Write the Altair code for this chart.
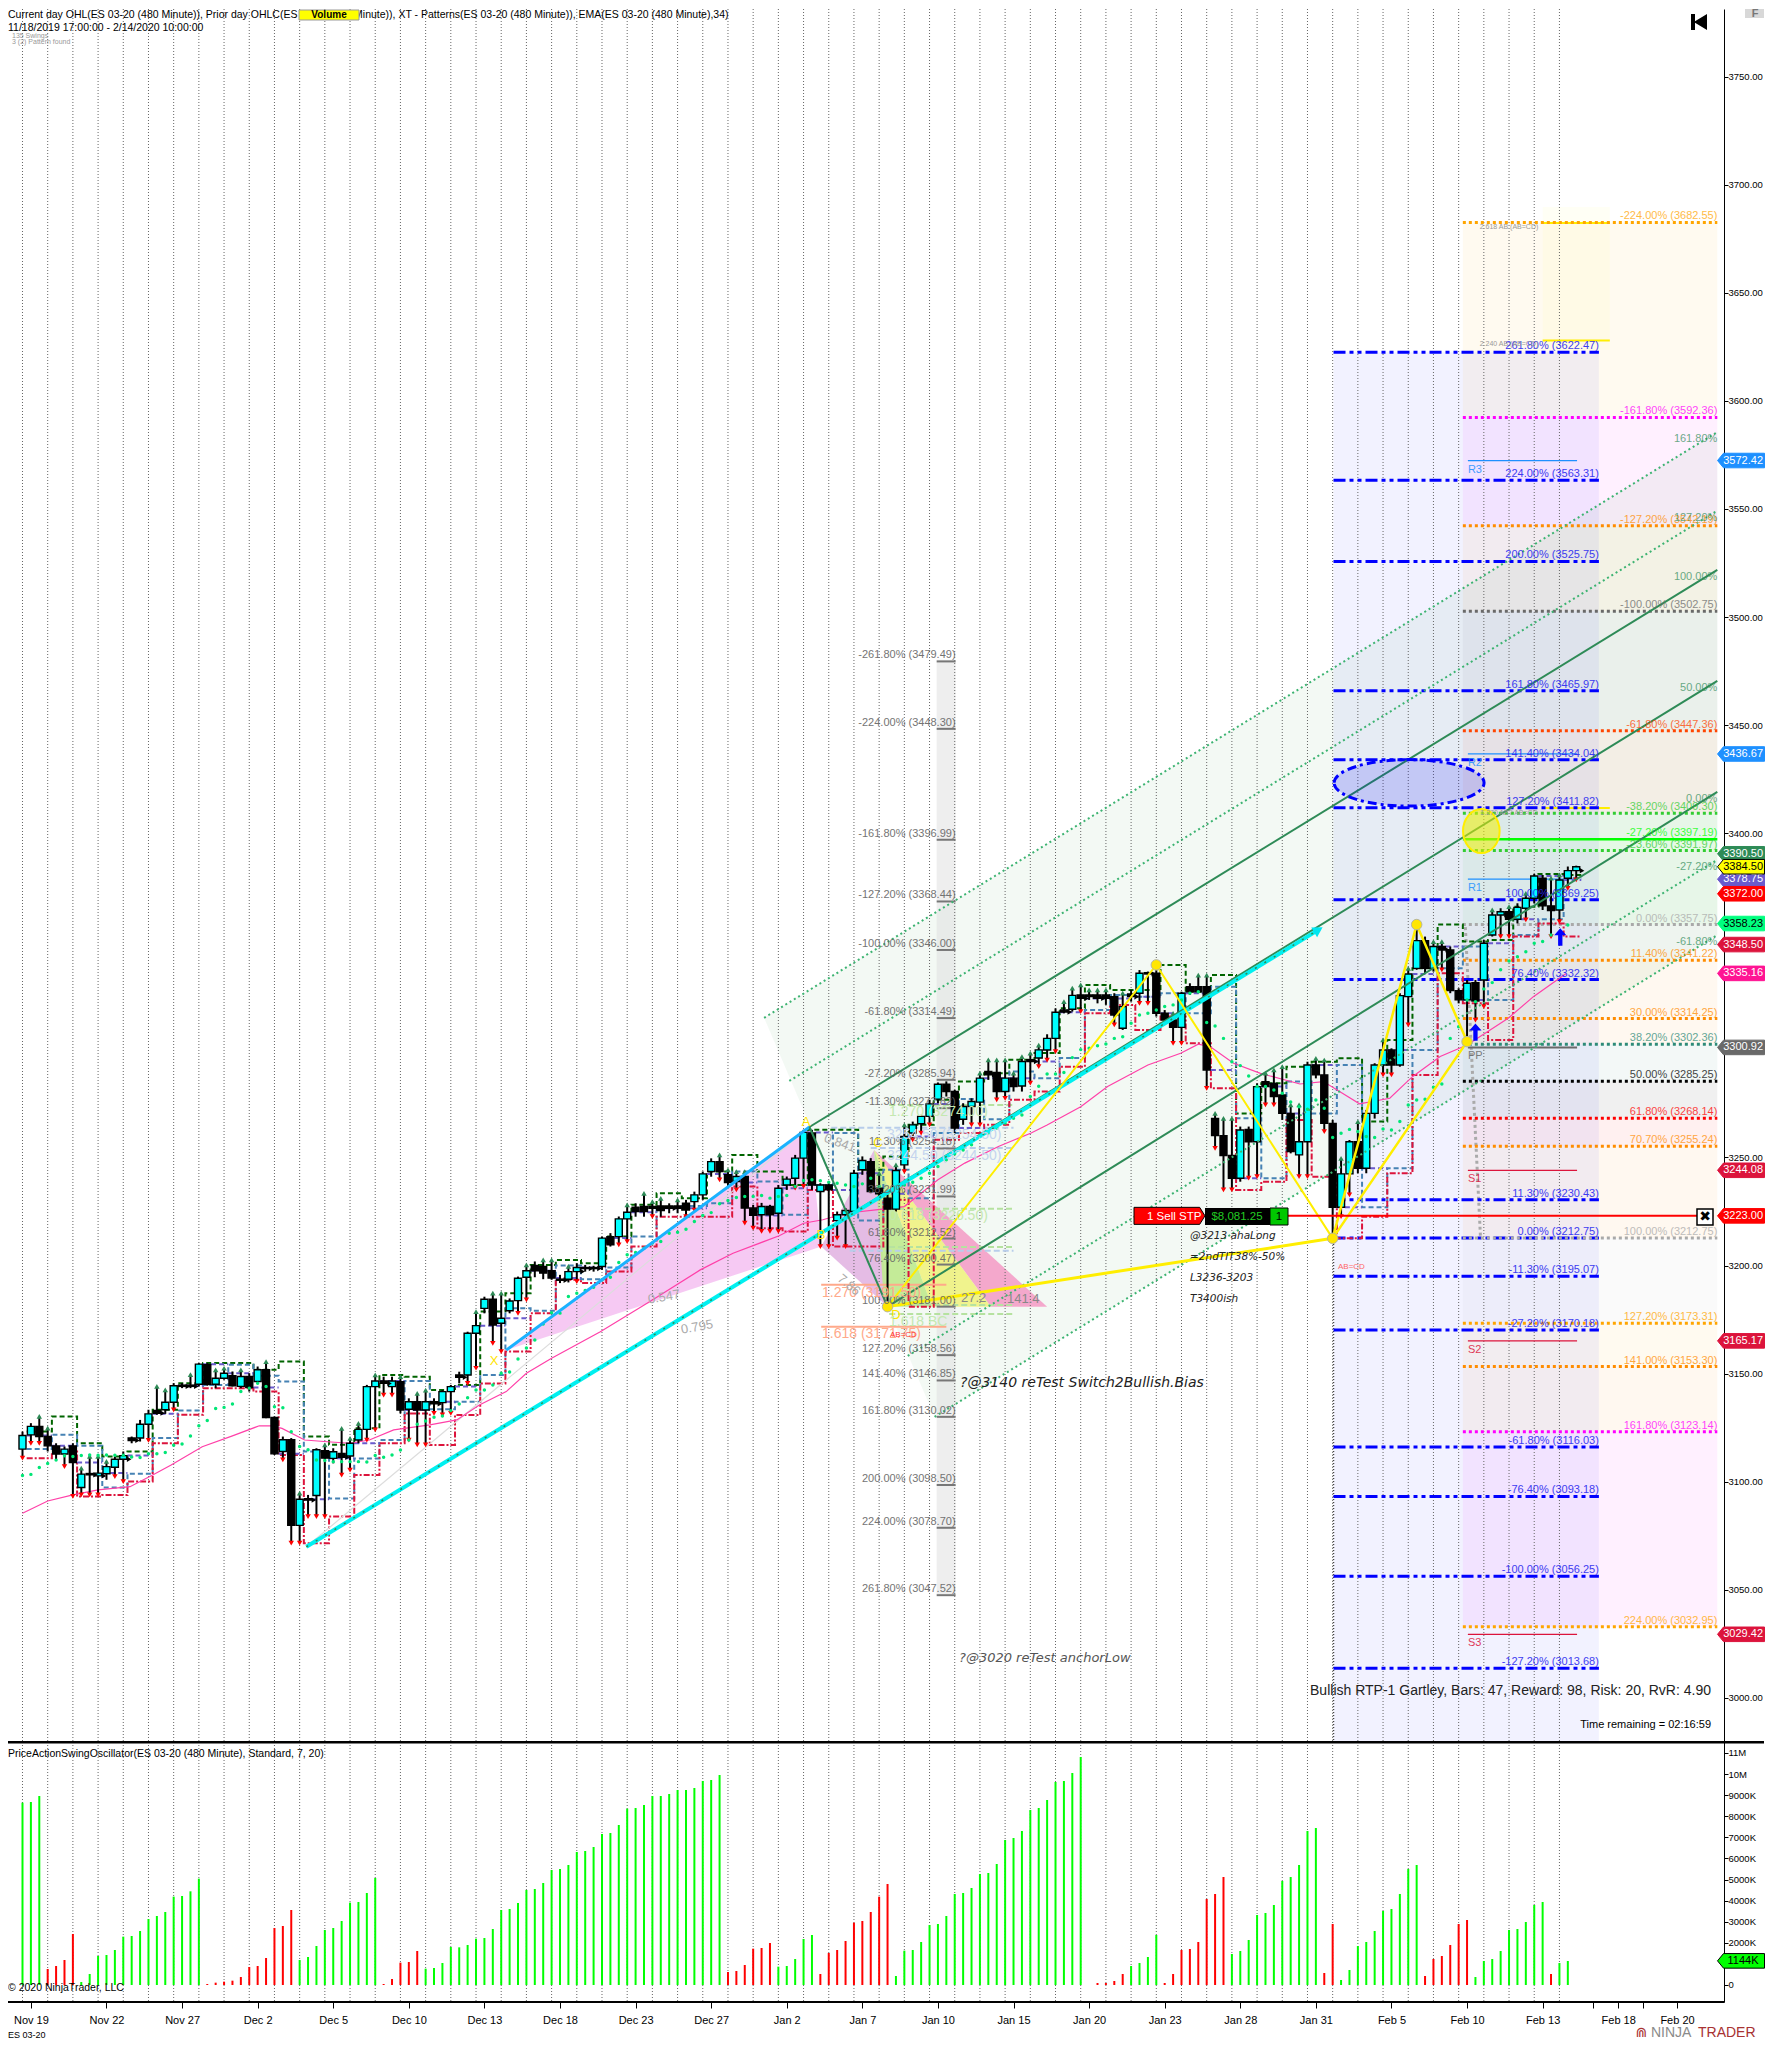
import json
import altair as alt
import pandas as pd

FONT = "Liberation Sans"

# ---------- price bars ----------
opens = [3115.1,3121.7,3125.6,3120.9,3116.6,3112.8,3116.6,3097.3,3103.8,3102.7,3103.7,3106.7,3110.4,3120.2,3120.2,3126.6,3133.0,3133.3,3136.8,3144.7,
3144.7,3145.1,3154.1,3145.1,3147.9,3149.0,3144.1,3148.7,3146.4,3151.8,3129.7,3114.0,3119.4,3079.8,3092.2,3093.6,3114.4,3110.8,3113.1,3111.9,
3119.3,3124.2,3144.0,3146.6,3144.0,3146.3,3133.5,3137.0,3133.2,3137.0,3136.6,3141.7,3149.4,3149.4,3168.7,3180.2,3184.4,3173.3,3179.1,3183.8,
3194.6,3200.0,3199.6,3197.6,3193.7,3193.7,3197.2,3199.1,3199.1,3199.6,3213.4,3213.4,3221.6,3227.0,3227.3,3227.3,3227.6,3227.6,3227.6,3228.8,
3229.6,3232.7,3243.5,3248.1,3242.0,3238.9,3241.2,3226.6,3223.5,3227.3,3224.2,3237.3,3240.4,3249.7,3261.3,3234.3,3237.3,3220.8,3223.5,3225.0,
3244.3,3248.1,3235.8,3231.2,3226.1,3246.6,3261.3,3265.6,3269.0,3277.0,3283.9,3280.5,3267.7,3273.6,3275.6,3289.8,3289.3,3280.5,3286.7,3283.1,
3295.2,3296.0,3299.7,3305.1,3318.2,3318.6,3325.2,3325.2,3325.2,3325.2,3324.4,3309.8,3325.6,3326.0,3335.5,3335.2,3316.7,3313.6,3310.2,3329.0,
3329.0,3329.0,3268.1,3260.1,3250.9,3240.4,3263.0,3257.3,3285.1,3284.3,3278.9,3270.4,3251.2,3257.3,3292.8,3288.2,3265.8,3227.0,3242.4,3257.3,
3245.0,3270.4,3292.8,3299.7,3292.8,3324.4,3337.5,3350.3,3337.5,3347.6,3346.0,3327.2,3322.9,3330.9,3332.1,3352.9,3362.2,3363.7,3360.2,3365.3,
3369.9,3379.2,3366.4,3364.5,3379.2,3382.7]
highs = [3123.2,3127.1,3130.2,3124.8,3117.8,3116.3,3117.8,3106.3,3111.7,3111.7,3109.4,3111.7,3114.0,3120.9,3128.6,3133.3,3144.1,3142.5,3145.6,3145.6,
3149.5,3154.9,3154.9,3151.8,3152.5,3151.0,3151.8,3150.2,3153.3,3155.6,3130.2,3120.9,3120.2,3094.7,3093.9,3115.5,3117.1,3115.5,3124.7,3120.1,
3127.0,3144.8,3149.4,3148.6,3148.6,3148.6,3138.6,3140.9,3142.4,3138.6,3142.4,3144.8,3150.9,3169.4,3178.7,3185.6,3187.2,3187.2,3184.8,3194.9,
3200.3,3201.9,3202.6,3202.6,3195.7,3199.6,3201.1,3200.3,3199.9,3213.4,3215.0,3222.7,3228.1,3228.8,3233.4,3229.6,3231.1,3228.8,3230.4,3230.4,
3234.2,3243.5,3249.6,3251.2,3244.3,3243.5,3243.5,3228.1,3229.0,3228.1,3237.3,3241.2,3251.2,3262.8,3262.8,3238.1,3238.1,3225.0,3226.6,3244.3,
3250.5,3249.7,3242.7,3232.7,3246.6,3265.1,3266.6,3269.7,3276.7,3284.7,3285.2,3281.3,3275.1,3277.4,3289.0,3295.2,3295.2,3295.2,3289.0,3296.7,
3298.3,3302.0,3307.0,3319.0,3322.1,3328.3,3329.8,3327.5,3327.5,3327.5,3326.0,3326.0,3327.5,3336.7,3336.0,3339.1,3318.2,3316.7,3326.7,3330.6,
3334.4,3334.4,3270.4,3268.1,3268.1,3264.3,3264.3,3284.3,3289.0,3290.5,3292.0,3274.3,3274.3,3294.3,3295.9,3295.1,3267.4,3249.6,3258.1,3266.6,
3272.0,3293.6,3304.4,3300.5,3326.0,3337.5,3357.75,3352.2,3349.9,3349.9,3347.6,3328.3,3332.1,3332.1,3350.6,3364.5,3365.3,3366.0,3367.6,3372.2,
3381.2,3380.7,3379.2,3380.7,3384.6,3385.0]
lows = [3110.9,3117.8,3117.8,3114.0,3110.1,3107.0,3093.2,3093.9,3093.9,3093.9,3100.9,3102.4,3100.1,3117.8,3118.6,3119.1,3131.0,3131.4,3133.3,3143.3,
3143.3,3144.1,3144.4,3143.3,3147.2,3144.1,3143.3,3141.7,3145.6,3129.4,3112.4,3110.1,3071.6,3071.6,3083.9,3083.9,3083.9,3108.5,3103.1,3105.4,
3117.8,3119.3,3124.0,3140.1,3140.1,3131.6,3119.3,3117.0,3117.0,3131.6,3130.9,3131.6,3145.5,3145.5,3152.5,3177.9,3164.0,3160.2,3177.9,3177.9,
3184.1,3194.6,3193.7,3193.4,3191.9,3192.2,3192.6,3197.2,3197.2,3198.0,3208.8,3209.6,3211.1,3222.6,3222.6,3222.6,3222.6,3224.2,3224.2,3222.6,
3225.7,3230.4,3241.1,3239.6,3236.6,3235.0,3219.6,3217.3,3215.8,3215.8,3215.8,3235.0,3235.8,3236.6,3235.0,3208.8,3208.8,3212.7,3208.8,3224.2,
3242.0,3233.5,3230.4,3181.0,3225.0,3243.5,3258.2,3261.3,3265.1,3275.1,3278.2,3261.3,3265.1,3265.1,3265.1,3285.9,3276.7,3277.4,3280.5,3280.5,
3284.4,3292.0,3295.0,3299.0,3316.7,3317.5,3317.5,3322.9,3321.3,3320.6,3311.3,3309.0,3322.1,3321.3,3321.3,3315.2,3312.1,3302.8,3302.8,3325.2,
3326.0,3282.0,3254.2,3235.0,3235.0,3238.8,3240.4,3241.1,3274.3,3274.3,3267.4,3251.9,3241.1,3241.1,3286.6,3262.0,3212.6,3222.6,3232.7,3242.7,
3242.7,3268.0,3288.2,3288.2,3292.0,3311.3,3336.8,3335.2,3336.0,3336.8,3326.0,3321.3,3304.4,3313.6,3319.8,3352.2,3352.2,3352.2,3358.3,3359.9,
3367.6,3364.5,3352.2,3359.1,3374.5,3378.4]
closes = [3121.4,3125.6,3120.9,3116.6,3112.8,3115.1,3108.9,3103.5,3103.2,3104.0,3107.0,3110.4,3112.1,3119.1,3126.6,3131.4,3131.7,3136.8,3144.4,3144.1,
3144.1,3154.4,3145.1,3147.9,3150.2,3144.4,3148.7,3143.6,3151.8,3129.7,3112.9,3119.4,3079.8,3091.9,3091.5,3114.8,3110.9,3113.9,3111.3,3117.8,
3124.2,3144.0,3146.6,3145.5,3146.6,3133.2,3137.0,3133.2,3137.0,3136.0,3141.7,3144.0,3148.3,3168.7,3172.2,3184.4,3172.5,3175.6,3183.6,3194.1,
3197.6,3197.6,3196.5,3194.2,3193.2,3197.2,3199.1,3198.6,3198.6,3212.7,3209.6,3221.6,3224.7,3225.0,3225.0,3226.5,3225.4,3226.5,3226.5,3225.7,
3232.7,3242.4,3248.1,3243.5,3238.4,3241.2,3226.6,3223.2,3227.3,3223.5,3235.8,3240.0,3249.7,3261.6,3237.3,3237.3,3235.0,3223.5,3225.5,3242.7,
3248.6,3234.3,3233.2,3226.1,3244.0,3259.7,3265.1,3269.0,3274.8,3283.9,3280.5,3263.6,3273.6,3275.9,3286.7,3288.2,3280.5,3286.7,3282.8,3294.4,
3294.4,3299.8,3305.1,3317.2,3317.3,3325.0,3323.6,3324.4,3323.6,3323.6,3315.9,3319.8,3324.4,3335.2,3334.9,3316.7,3313.6,3310.2,3326.0,3326.7,
3326.7,3290.5,3260.1,3250.9,3240.4,3262.7,3257.3,3282.8,3282.8,3278.2,3270.4,3252.7,3257.3,3292.8,3288.2,3265.8,3227.0,3242.4,3257.3,3245.0,
3270.4,3292.8,3299.7,3292.8,3324.9,3334.9,3350.3,3337.5,3347.6,3346.0,3327.2,3322.9,3330.6,3322.4,3349.1,3362.2,3363.7,3360.2,3365.7,3369.9,
3380.2,3366.4,3364.2,3378.4,3382.7,3384.5]

stop_dots = [3102.9,3103.4,3106.6,3108.4,3110.0,3112.0,3111.7,3112.1,3112.4,3112.3,3112.4,3112.3,3112.3,3111.4,3111.2,3112.9,3112.9,3113.5,3116.9,3117.5,
3121.2,3125.9,3128.3,3133.9,3134.4,3136.0,3141.7,3143.3,3145.6,3144.1,3134.7,3134.2,3123.1,3116.3,3114.8,3110.1,3109.8,3109.3,3109.3,3109.3,
3109.3,3109.1,3112.1,3111.3,3112.4,3114.7,3119.3,3126.6,3128.1,3129.8,3130.4,3132.9,3136.0,3138.9,3142.4,3142.4,3144.8,3150.2,3150.8,3156.8,
3161.9,3165.6,3173.0,3178.2,3178.0,3185.7,3187.2,3188.5,3190.0,3193.4,3194.6,3201.4,3205.0,3206.0,3208.0,3210.4,3211.1,3215.0,3215.4,3216.8,
3220.4,3223.2,3224.5,3228.6,3230.1,3231.5,3232.0,3232.0,3232.4,3231.2,3232.0,3232.4,3236.6,3239.4,3239.7,3239.2,3238.6,3238.1,3237.3,3236.6,
3237.8,3240.4,3236.6,3233.5,3235.8,3237.3,3238.5,3240.4,3242.7,3245.8,3248.9,3251.7,3253.5,3255.9,3259.7,3261.3,3263.6,3265.9,3268.2,3269.7,
3278.2,3283.0,3288.6,3288.6,3289.3,3296.2,3299.9,3300.5,3301.7,3302.5,3305.1,3305.9,3312.1,3315.9,3316.7,3318.2,3319.8,3320.6,3322.9,3326.0,
3326.7,3312.4,3310.8,3305.1,3294.3,3292.5,3287.7,3282.8,3282.8,3281.2,3279.7,3275.7,3273.5,3272.3,3276.6,3272.8,3259.2,3261.2,3263.0,3262.0,
3259.7,3259.2,3263.2,3262.7,3266.6,3274.3,3276.6,3276.9,3282.5,3284.0,3305.1,3310.5,3322.9,3322.1,3328.0,3330.9,3336.8,3340.9,3342.9,3345.2,
3349.1,3349.9,3352.9,3353.7,3357.6]

ema_bar = [0,3,6,9,12.8,15.5,17.7,21.4,25,28.2,29.7,30.9,33.6,36.3,39,41.3,44.2,48.5,51.7,54.4,57.6,60,63,68.8,75,80.7,84.6,90.1,93,95.3,98,101.6,105,109,112.2,116.2,120.1,122,126,129.2,134,137.9,140,141.4,144.2,147.4,152.1,154.9,159.2,162.8,165.5,168.8,172,176.9,179.9,183.8]
ema_val = [3085.4,3091.1,3093.9,3096.2,3097.7,3103.1,3107.7,3116.2,3121.2,3125.9,3125.8,3124.7,3119.3,3118.5,3117.8,3119.3,3124.0,3126.3,3128.6,3135.5,3141.7,3150.2,3157.1,3169.4,3184.1,3198.0,3205.7,3213.8,3219.6,3221.2,3224.2,3225.8,3227.3,3239.7,3247.4,3255.1,3261.3,3265.0,3273.5,3282.8,3292.8,3298.2,3302.4,3301.3,3293.6,3288.9,3284.0,3285.1,3274.8,3277.4,3287.4,3296.7,3302.0,3314.4,3324.4,3335.16]

# ---------- oscillator (thousands) ----------
osc_vals = [8643,8674,8959,758,900,1185,2417,142,521,1375,1422,1659,2291,2323,2560,3128,3271,3460,4187,4219,4440,5040,47,111,158,205,379,853,900,1280,2702,2797,3555,
1185,1327,1849,2607,2702,3034,3903,3934,4361,5072,47,284,1059,1090,1612,774,806,1043,1801,1785,1896,2196,2228,2654,3555,3602,3887,4503,4550,4835,5451,5498,5688,6304,6352,6541,7157,7205,7584,8358,8390,8532,8959,8959,9053,9243,9243,9338,9670,9717,9954,
616,664,948,1722,1754,1991,869,900,1232,2180,2370,521,1517,1659,2086,2955,3034,3460,4187,4787,427,
1627,1659,2038,2844,2891,3271,4313,4361,4598,5261,5309,5735,6873,6968,7300,8295,8390,8769,9622,9670,10049,10807,0,95,95,190,521,900,1043,1327,2370,95,521,1659,1706,2038,4076,4313,5119,
1469,1612,2133,3318,3413,3792,4930,5119,5688,7300,7442,569,2891,237,711,1849,2038,2560,3508,3602,4313,5498,5688,427,1232,1375,1896,2891,3081,379,1138,1232,1612,2607,2654,2986,3792,3934,521,1043,1138]
osc_runs = [(3,"#00ff00"),(4,"#ff0000"),(15,"#00ff00"),(11,"#ff0000"),(10,"#00ff00"),(5,"#ff0000"),(36,"#00ff00"),(6,"#ff0000"),(5,"#00ff00"),(9,"#ff0000"),(23,"#00ff00"),(5,"#ff0000"),(4,"#00ff00"),(8,"#ff0000"),(11,"#00ff00"),(2,"#ff0000"),(10,"#00ff00"),(6,"#ff0000"),(9,"#00ff00"),(1,"#ff0000"),(2,"#00ff00")]

tick_bars = [1,10,19,28,37,46,55,64,73,82,91,100,109,118,127,136,145,154,163,172,181,187,190,193,197]
tick_names = ["Nov 19","Nov 22","Nov 27","Dec 2","Dec 5","Dec 10","Dec 13","Dec 18","Dec 23","Dec 27","Jan 2","Jan 7","Jan 10","Jan 15","Jan 20","Jan 23","Jan 28","Jan 31","Feb 5","Feb 10","Feb 13","","Feb 18","","Feb 20"]

# ---------- fibonacci blocks ----------
blue_pct = ["261.80%","224.00%","200.00%","161.80%","141.40%","127.20%","100.00%","76.40%","11.30%","0.00%","-11.30%","-27.20%","-61.80%","-76.40%","-100.00%","-127.20%"]
blue_val = [3622.47,3563.31,3525.75,3465.97,3434.04,3411.82,3369.25,3332.32,3230.43,3212.75,3195.07,3170.18,3116.03,3093.18,3056.25,3013.68]

ret_pct = ["-224.00%","-161.80%","-127.20%","-100.00%","-61.80%","-38.20%","-27.20%","-23.60%","0.00%","11.40%","30.00%","38.20%","50.00%","61.80%","70.70%","100.00%","127.20%","141.00%","161.80%","224.00%"]
ret_val = [3682.55,3592.36,3542.19,3502.75,3447.36,3409.30,3397.19,3391.97,3357.75,3341.22,3314.25,3302.36,3285.25,3268.14,3255.24,3212.75,3173.31,3153.30,3123.14,3032.95]
ret_col = ["#ffa500","#ff00ff","#ff8c00","#696969","#ff4500","#32cd32","#00ff00","#32cd32","#a9a9a9","#ff8c00","#ff8c00","#2e8b78","#000000","#ff0000","#ff8c00","#a9a9a9","#ffa500","#ff8c00","#ff00ff","#ffa500"]

left_pct = ["-261.80%","-224.00%","-161.80%","-127.20%","-100.00%","-61.80%","-27.20%","-11.30%","11.30%","38.20%","61.80%","76.40%","100.00%","127.20%","141.40%","161.80%","200.00%","224.00%","261.80%"]
left_val = [3479.49,3448.30,3396.99,3368.44,3346.00,3314.49,3285.94,3272.82,3254.18,3231.99,3212.52,3200.47,3181.00,3158.56,3146.85,3130.02,3098.50,3078.70,3047.52]

pivot_name = ["R3","R2","R1","PP","S1","S2","S3"]
pivot_val = [3572.42,3436.67,3378.75,3300.92,3244.08,3165.17,3029.42]
pivot_col = ["#1e90ff","#1e90ff","#1e90ff","#696969","#dc143c","#dc143c","#dc143c"]

chan_name = ["161.80%","127.20%","100.00%","50.00%","0.00%","-27.20%","-61.80%"]
chan_x0 = [88.3,91.3,93.7,98.3,103,105.4,108.6]
chan_p0 = [3314.6,3285.4,3264.1,3223,3181,3158.2,3130]
chan_x1 = [201.8]*7
chan_p1 = [3585.6,3549.3,3521.8,3470.5,3419.1,3387.7,3352.9]

tag_val = [3572.42,3436.67,3390.50,3378.75,3372.00,3384.50,3358.23,3348.50,3335.16,3300.92,3244.08,3223.00,3165.17,3029.42]
tag_fill = ["#1e90ff","#1e90ff","#2e8b57","#6a5acd","#ff0000","#ffff00","#00ff7f","#dc143c","#ff1493","#696969","#dc143c","#ff0000","#dc143c","#dc143c"]
tag_ink = ["white","white","white","white","white","black","black","white","white","white","white","white","white","white"]

XS = alt.Scale(domain=[-1.1306, 202.0], nice=False, zero=False)
YS = alt.Scale(domain=[2979.6, 3781.3], nice=False, zero=False)
OS = alt.Scale(domain=[-806, 11517], nice=False, zero=False)
PW, PH, OH = 1716, 1733, 260
TAG = "M-1,0 L-0.745,-0.31 L1,-0.31 L1,0.31 L-0.745,0.31 Z"

PRICE_AXIS = alt.Axis(orient="right", values=list(range(3000, 3751, 50)), format=".2f", title=None, grid=False,
                      tickSize=4, tickColor="#000000", domainColor="#000000", domainWidth=1, labelColor="#000000",
                      labelFont=FONT, labelFontSize=9.5, labelPadding=0, labelOverlap=False, labelFlush=False, labelBound=False)


def X(f="x"):
    return alt.X(f + ":Q", scale=XS, axis=None)


def Y(f="y"):
    return alt.Y(f + ":Q", scale=YS, axis=PRICE_AXIS)


def path(xs, ys, **mk):
    d = pd.DataFrame({"x": xs, "y": ys, "k": range(len(xs))})
    return alt.Chart(d).mark_line(**mk).encode(x=X(), y=Y(), order="k:Q")


def hrule(x0, x1, y, **mk):
    d = pd.DataFrame({"x": [x0], "x1": [x1], "y": [y]})
    return alt.Chart(d).mark_rule(**mk).encode(x=X(), x2="x1:Q", y=Y())


def T(px, py, s, size=11, color="#000000", align="left", font=FONT, weight="normal", style="normal", angle=0, opacity=1.0):
    return alt.Chart(pd.DataFrame({"a": [0]})).mark_text(
        align=align, baseline="middle", font=font, fontSize=size, fontWeight=weight,
        fontStyle=style, angle=angle, opacity=opacity, color=color
    ).encode(x=alt.value(px - 9), y=alt.value(py - 9), text=alt.value(s))


def box(x0, y0, x1, y1, fill, **mk):
    return alt.Chart(pd.DataFrame({"a": [0]})).mark_rect(color=fill, **mk).encode(
        x=alt.value(x0 - 9), x2=alt.value(x1 - 9), y=alt.value(y0 - 9), y2=alt.value(y1 - 9))


def tri(y_top, y_bot, xa, xl, xr, color, op):
    d = pd.DataFrame({"y": [y_top, y_bot], "a": [xa, xl], "b": [xa, xr]})
    return alt.Chart(d).mark_area(orient="horizontal", color=color, opacity=op).encode(y=Y(), x=X("a"), x2="b:Q")


bars = pd.DataFrame({"i": range(len(opens)), "o": opens, "h": highs, "l": lows, "c": closes})
bars["top"] = bars[["o", "c"]].max(axis=1)
bars["bot"] = bars[["o", "c"]].min(axis=1)
bars["col"] = (bars.c >= bars.o).map({True: "#00ffff", False: "#000000"})
bars["g"] = (bars.i + 2) // 3

days = bars.groupby("g").agg(start=("i", "min"), o=("o", "first"), c=("c", "last"), h=("h", "max"), l=("l", "min")).reset_index()
prev = pd.DataFrame({"x": days.start.values[1:] - 0.5, "h": days.h.values[:-1], "l": days.l.values[:-1],
                     "o": days.o.values[:-1], "c": days.c.values[:-1]})
prev["x1"] = list(prev.x.values[1:]) + [185.6]
prev_ext = pd.concat([prev, prev.tail(1).assign(x=185.6)])

grid_top = pd.DataFrame({"x": list(range(0, 184, 3))})

layers = []

fan = pd.DataFrame({"x": [88.3, 108.6, 201.8], "y": [3314.6, 3363.0, 3585.6], "y2": [3314.6, 3130.0, 3352.9]})
layers.append(alt.Chart(fan).mark_area(color="#e4f2e6", opacity=0.45).encode(x=X(), y=Y(), y2="y2:Q"))

zones = pd.DataFrame({"y": ret_val[:-1], "y2": ret_val[1:], "col": ret_col[:-1], "x": 171.5, "x1": 201.8})
layers.append(alt.Chart(zones).mark_rect(opacity=0.06).encode(
    x=X(), x2="x1:Q", y=Y(), y2="y2:Q", color=alt.Color("col:N", scale=None)))
layers.append(alt.Chart(pd.DataFrame({"x": [156.1], "x1": [187.7], "y": [3622.47], "y2": [2979.6]})).mark_rect(
    color="#0000ff", opacity=0.05).encode(x=X(), x2="x1:Q", y=Y(), y2="y2:Q"))
layers.append(alt.Chart(pd.DataFrame({"x": [108.85], "x1": [111.1], "y": [3480.2], "y2": [3048.0]})).mark_rect(
    color="#dddddd", opacity=0.5).encode(x=X(), x2="x1:Q", y=Y(), y2="y2:Q"))
layers.append(alt.Chart(pd.DataFrame({"x": [181], "x1": [189], "y": [3689.7], "y2": [3623.6]})).mark_rect(
    color="#ffff00", opacity=0.04).encode(x=X(), x2="x1:Q", y=Y(), y2="y2:Q"))

xab = pd.DataFrame({"x": [57.6, 93.7, 95.1], "y": [3160.9, 3264.1, 3208.8], "y2": [3160.9, 3207.0, 3208.8]})
layers.append(alt.Chart(xab).mark_area(color="#f5c6f2", opacity=0.95).encode(x=X(), y=Y(), y2="y2:Q"))
bcd = pd.DataFrame({"x": [95.1, 101.4, 103], "y": [3208.8, 3253.5, 3181.0], "y2": [3208.8, 3186.6, 3181.0]})
layers.append(alt.Chart(bcd).mark_area(color="#e2b5e2", opacity=0.9).encode(x=X(), y=Y(), y2="y2:Q"))
layers.append(tri(3253.5, 3181.0, 101.4, 115.3, 122.0, "#f39ac4", 0.85))
layers.append(tri(3253.5, 3181.0, 101.4, 108.3, 115.3, "#eef27a", 0.85))
layers.append(tri(3253.5, 3181.0, 101.4, 102.6, 108.3, "#bfe98e", 0.9))

layers.append(alt.Chart(grid_top).mark_rule(color="#666666", strokeDash=[1, 2], strokeWidth=1).encode(x=X()))

for x0, x1, p, col in [(96.3, 118, 3263.8, "#b8cdea"), (101, 118, 3254.4, "#b8cdea"), (98.5, 118, 3206.8, "#b8cdea"),
                       (103.2, 118, 3274.3, "#b6e2a0"), (102.1, 118, 3226.3, "#b6e2a0"), (102.1, 118, 3208.6, "#b6e2a0"),
                       (103.2, 118, 3181.8, "#b6e2a0"), (103.2, 118, 3177.6, "#b6e2a0")]:
    layers.append(hrule(x0, x1, p, color=col, strokeWidth=2, strokeDash=[6, 3]))
for p in [3191.1, 3171.7]:
    layers.append(hrule(95.1, 110, p, color="#ffa98a", strokeWidth=2))
layers.append(path([171.8, 173.6], [3356.6, 3213.2], color="#aaaaaa", strokeWidth=3, strokeDash=[3, 3]))
layers.append(alt.Chart(pd.DataFrame({"x": [156.1], "y": [3212.75], "y2": [2979.6]})).mark_rule(
    color="#444444", strokeWidth=1.5, strokeDash=[1, 2]).encode(x=X(), y=Y(), y2="y2:Q"))

for p in [3682.3, 3628.0, 3411.7]:
    layers.append(hrule(181, 189, p, color="#ffee00", strokeWidth=2))

bl = pd.DataFrame({"y": blue_val, "t": [f"{a} ({b:.2f})" for a, b in zip(blue_pct, blue_val)], "x": 156.1, "x1": 187.7})
layers.append(alt.Chart(bl).mark_rule(color="#0000ff", strokeWidth=3, strokeDash=[12, 4, 4, 4, 4, 4]).encode(x=X(), x2="x1:Q", y=Y()))

rl = pd.DataFrame({"y": ret_val, "col": ret_col, "x": 171.5, "x1": 201.8,
                   "t": [f"{a} ({b:.2f})" for a, b in zip(ret_pct, ret_val)]})
rdot = rl[rl.y != 3397.19]
layers.append(alt.Chart(rdot).mark_rule(strokeWidth=3, strokeDash=[3, 3]).encode(
    x=X(), x2="x1:Q", y=Y(), color=alt.Color("col:N", scale=None)))
layers.append(hrule(171.5, 201.8, 3397.19, color="#00ff00", strokeWidth=2.5))

ll = pd.DataFrame({"y": left_val, "x": 108.85, "x1": 111.1, "t": [f"{a} ({b:.2f})" for a, b in zip(left_pct, left_val)]})
layers.append(alt.Chart(ll).mark_rule(color="#777777", strokeWidth=2).encode(x=X(), x2="x1:Q", y=Y()))

pv = pd.DataFrame({"y": pivot_val, "t": pivot_name, "col": pivot_col, "x": 172.1, "x1": 185.1})
layers.append(alt.Chart(pv[pv.t != "PP"]).mark_rule(strokeWidth=1.2).encode(
    x=X(), x2="x1:Q", y=Y(), color=alt.Color("col:N", scale=None)))
layers.append(alt.Chart(pv[pv.t == "PP"]).mark_rule(strokeWidth=2).encode(
    x=X(), x2="x1:Q", y=Y(), color=alt.Color("col:N", scale=None)))

layers.append(alt.Chart(prev_ext).mark_line(interpolate="step-after", color="#006400", strokeWidth=2, strokeDash=[5, 3]).encode(x=X(), y=Y("h")))
layers.append(alt.Chart(prev_ext).mark_line(interpolate="step-after", color="#4682b4", strokeWidth=2, strokeDash=[5, 3]).encode(x=X(), y=Y("o")))
layers.append(alt.Chart(prev_ext).mark_line(interpolate="step-after", color="#dc143c", strokeWidth=2, strokeDash=[6, 2, 2, 2]).encode(x=X(), y=Y("l")))
layers.append(alt.Chart(prev).mark_rule(color="#6a5acd", strokeWidth=2, strokeDash=[5, 3]).encode(x=X(), x2="x1:Q", y=Y("c")))

layers.append(path([33.8, 93.7], [3069.9, 3264.1], color="#dddddd", strokeWidth=1.2))
layers.append(path(ema_bar, ema_val, color="#ff40a8", strokeWidth=1.2))

layers.append(alt.Chart(bars).mark_rule(color="#000000", strokeWidth=2).encode(x=X("i"), y=Y("l"), y2="h:Q"))
layers.append(alt.Chart(bars).mark_bar(size=7, stroke="#000000", strokeWidth=1.4, orient="vertical").encode(
    x=X("i"), y=Y("bot"), y2="top:Q", color=alt.Color("col:N", scale=None)))

ups = bars[bars.h - bars.top > 2]
downs = bars[bars.bot - bars.l > 3]
thin = bars[(bars.top - bars.bot) < 2].assign(xr=lambda d: d.i + 0.7)
layers.append(alt.Chart(thin).mark_point(shape="triangle-right", filled=True, size=28, color="#000000", opacity=1).encode(x=X("xr"), y=Y("bot")))
layers.append(alt.Chart(ups).mark_point(shape="triangle-up", filled=True, size=30, color="#2e8b57", opacity=1).encode(x=X("i"), y=Y("h")))
layers.append(alt.Chart(downs).mark_point(shape="triangle-down", filled=True, size=30, color="#ff0000", opacity=1).encode(x=X("i"), y=Y("l")))
dots = pd.DataFrame({"i": range(len(stop_dots)), "y": stop_dots})
layers.append(alt.Chart(dots).mark_circle(size=12, color="#00e676", opacity=1).encode(x=X("i"), y=Y()))

for k, nm in enumerate(chan_name):
    solid = nm in ("100.00%", "50.00%", "0.00%")
    kw = {"color": "#2e8b57", "strokeWidth": 2} if solid else {"color": "#3cb371", "strokeWidth": 2, "strokeDash": [2, 3]}
    layers.append(path([chan_x0[k], chan_x1[k]], [chan_p0[k], chan_p1[k]], **kw))

layers.append(path([33.8, 154.3], [3069.9, 3355.3], color="#00f0f0", strokeWidth=4))
layers.append(path([33.8, 154.3], [3069.9, 3355.3], color="#2e8b57", strokeWidth=1.5, strokeDash=[2, 9]))
layers.append(alt.Chart(pd.DataFrame({"x": [154.3], "y": [3355.3]})).mark_point(
    shape="triangle-up", filled=True, size=130, color="#00e5f0", angle=59, opacity=1).encode(x=X(), y=Y()))
layers.append(path([57.6, 93.7], [3160.9, 3264.1], color="#1ab2ff", strokeWidth=3))
layers.append(path([93.7, 103], [3264.1, 3181.0], color="#2e8b57", strokeWidth=2))

layers.append(path([103, 135, 156], [3181.0, 3339.1, 3212.6], color="#ffee00", strokeWidth=2))
layers.append(path([103, 156], [3181.0, 3212.6], color="#ffee00", strokeWidth=3))
layers.append(path([156, 166, 172, 156], [3212.6, 3357.75, 3303.6, 3212.6], color="#ffee00", strokeWidth=2.5))
hub = pd.DataFrame({"x": [103, 135, 156, 166, 172], "y": [3181.0, 3339.1, 3212.6, 3357.75, 3303.6]})
layers.append(alt.Chart(hub).mark_point(filled=True, shape="circle", size=110, fill="#ffe600", stroke="#b5b5a0", strokeWidth=1, opacity=1).encode(x=X(), y=Y()))

layers.append(alt.Chart(pd.DataFrame({"x": [165.1], "y": [3423.3]})).mark_point(
    shape="M-1,0C-1,-0.17 -0.55,-0.31 0,-0.31C0.55,-0.31 1,-0.17 1,0C1,0.17 0.55,0.31 0,0.31C-0.55,0.31 -1,0.17 -1,0Z",
    size=22500, filled=True, fill="#0000ff", fillOpacity=0.15, stroke="#0000ff", strokeOpacity=1, strokeWidth=3,
    strokeDash=[9, 4, 3, 4], opacity=1).encode(x=X(), y=Y()))
layers.append(alt.Chart(pd.DataFrame({"x": [173.7], "y": [3401.0]})).mark_point(
    shape="M-1,0C-1,-0.66 -0.55,-1.2 0,-1.2C0.55,-1.2 1,-0.66 1,0C1,0.66 0.55,1.2 0,1.2C-0.55,1.2 -1,0.66 -1,0Z",
    size=1340, filled=True, fill="#f0f000", fillOpacity=0.55, stroke="#ffee00", strokeOpacity=1, strokeWidth=2, opacity=1).encode(x=X(), y=Y()))

arrow = "M0,-1 L0.7,-0.2 L0.25,-0.2 L0.25,1 L-0.25,1 L-0.25,-0.2 L-0.7,-0.2 Z"
layers.append(alt.Chart(pd.DataFrame({"x": [173, 183.1], "y": [3308.0, 3352.0]})).mark_point(
    shape=arrow, size=300, filled=True, color="#0000ff", opacity=1).encode(x=X(), y=Y()))

lbl = dict(align="right", baseline="bottom", dy=-1, font=FONT, fontSize=11)
layers.append(alt.Chart(bl).mark_text(color="#2a2af0", opacity=0.9, **lbl).encode(x=X("x1"), y=Y(), text="t:N"))
layers.append(alt.Chart(rl).mark_text(opacity=0.75, **lbl).encode(x=X("x1"), y=Y(), text="t:N", color=alt.Color("col:N", scale=None)))
layers.append(alt.Chart(ll).mark_text(color="#666666", opacity=0.9, **lbl).encode(x=X("x1"), y=Y(), text="t:N"))
layers.append(alt.Chart(pv).mark_text(align="left", baseline="top", dy=3, font=FONT, fontSize=11, opacity=0.85).encode(
    x=X(), y=Y(), text="t:N", color=alt.Color("col:N", scale=None)))
chl = pd.DataFrame({"x": chan_x1, "y": chan_p1, "t": chan_name})
layers.append(alt.Chart(chl).mark_text(align="right", baseline="top", dy=1, font=FONT, fontSize=11, color="#2e8b57", opacity=0.7).encode(
    x=X(), y=Y(), text="t:N"))

layers.append(hrule(150.4, 201.3, 3223.0, color="#ff0000", strokeWidth=2))
tags = pd.DataFrame({"y": tag_val, "fill": tag_fill, "ink": tag_ink, "t": [f"{v:.2f}" for v in tag_val]})
for _, r in tags.iterrows():
    one = pd.DataFrame([r])
    layers.append(alt.Chart(one).mark_point(
        shape=TAG, size=2209, filled=True, fill=r.fill,
        stroke="#000000" if r.fill == "#ffff00" else r.fill, strokeWidth=1, opacity=1).encode(x=alt.value(1733), y=Y()))
    layers.append(alt.Chart(one).mark_text(align="right", baseline="middle", font=FONT, fontSize=11, color=r.ink).encode(
        x=alt.value(1755), y=Y(), text="t:N"))

layers.append(alt.Chart(pd.DataFrame({"y": [3223.0]})).mark_point(
    shape="M-1,-0.24 L0.85,-0.24 L1,0 L0.85,0.24 L-1,0.24 Z", size=5041, filled=True, fill="#ff0000", stroke="#000000",
    strokeWidth=1, opacity=1).encode(x=alt.value(1161.5), y=Y()))
layers.append(box(1206, 1208, 1271, 1225, "#000000"))
layers.append(box(1271, 1208, 1289, 1225, "#00c800", stroke="#000000", strokeWidth=1))
layers.append(box(1698, 1209, 1714, 1225, "#ffffff", stroke="#000000", strokeWidth=1.5))
layers.append(T(1148, 1216.5, "1  Sell STP", size=11.5, color="#ffffff"))
layers.append(T(1238, 1217, "$8,081.25", size=11.5, color="#22cc22", align="center"))
layers.append(T(1280, 1217, "1", size=11.5, color="#000000", align="center"))
layers.append(T(1706, 1217, "✖", size=14, color="#000000", align="center", font="DejaVu Sans"))

layers.append(T(9, 15, "Current day OHL(ES 03-20 (480 Minute)), Prior day OHLC(ES 03-20 (480 Minute)), XT - Patterns(ES 03-20 (480 Minute)), EMA(ES 03-20 (480 Minute),34)", size=10.5))
layers.append(box(300, 10, 360, 20, "#ffff00", stroke="#999999", strokeWidth=1))
layers.append(T(330, 15, "Volume", size=10, align="center", weight="bold"))
layers.append(T(9, 28, "11/18/2019 17:00:00 - 2/14/2020 10:00:00", size=10.5))
layers.append(T(13, 36, "135 Swings", size=7, color="#999999"))
layers.append(T(13, 42, "3 (2) Pattern found", size=7, color="#999999"))
layers.append(alt.Chart(pd.DataFrame({"a": [0]})).mark_point(
    shape="M-1,-1 L-0.5,-1 L-0.5,-0.1 L1,-1 L1,1 L-0.5,0.1 L-0.5,1 L-1,1 Z", size=256, filled=True, color="#000000", opacity=1
).encode(x=alt.value(1691), y=alt.value(13)))
layers.append(box(1746, 9, 1765, 18, "#d8d8d8"))
layers.append(T(1756, 14, "F", size=11, weight="bold", color="#777777", align="center"))

hand = dict(font="DejaVu Sans", style="italic", color="#222222")
layers.append(T(1191, 1236, "@3213 ahaLong", size=10.5, **hand))
layers.append(T(1191, 1257, "=2ndTIT38%-50%", size=10.5, **hand))
layers.append(T(1191, 1278, "L3236-3203", size=10.5, **hand))
layers.append(T(1191, 1299, "T3400ish", size=10.5, **hand))
layers.append(T(961, 1383, "?@3140 reTest Switch2Bullish.Bias", size=14, **hand))
layers.append(T(960, 1658, "?@3020 reTest anchorLow", size=13, font="DejaVu Sans", style="italic", color="#555555"))
layers.append(T(1712, 1691, "Bullish RTP-1 Gartley, Bars: 47, Reward: 98, Risk: 20, RvR: 4.90", size=14, color="#222222", align="right"))
layers.append(T(1712, 1725, "Time remaining = 02:16:59", size=11, align="right"))

layers.append(T(807, 1122, "A", size=13, color="#ffe400", align="center"))
layers.append(T(879, 1143, "C", size=13, color="#ffe400", align="center"))
layers.append(T(495, 1361, "X", size=13, color="#ffe400", align="center"))
layers.append(T(822, 1235, "B", size=13, color="#ffe400", align="center"))
layers.append(T(897, 1315, "D", size=13, color="#ffe400", align="center"))
layers.append(T(823, 1293, "1.270 (3191.50)", size=14, color="#ffa98a"))
layers.append(T(823, 1334, "1.618 (3171.75)", size=14, color="#ffa98a"))
layers.append(T(891, 1335, "AB=CD", size=8, color="#ff3333"))
layers.append(T(1339, 1267, "AB=CD", size=8, color="#ff6666"))
layers.append(T(890, 1112, "1.270 (3274.00)", size=14, color="#c4e8b0"))
layers.append(T(888, 1135, "3254.50 (3254.50)", size=14, color="#c4d4ee"))
layers.append(T(888, 1156, "3244.50 (3244.50)", size=14, color="#c4d4ee"))
layers.append(T(890, 1216, "0.618 (3226.50)", size=14, color="#c4e8b0"))
layers.append(T(890, 1322, "1.618 BC", size=14, color="#c4e8b0"))
layers.append(T(962, 1298, "27.2", size=13, color="#888888"))
layers.append(T(1008, 1299, "141.4", size=13, color="#888888"))
layers.append(T(665, 1297, "0.547", size=13, color="#aaaaaa", align="center", angle=350))
layers.append(T(698, 1327, "0.795", size=13, color="#aaaaaa", align="center", angle=350))
layers.append(T(841, 1143, "0.841", size=13, color="#aaaaaa", align="center", angle=20))
layers.append(T(850, 1285, "7.86", size=13, color="#aaaaaa", align="center", angle=40))
layers.append(T(1510, 227, "2.618 AB (AB=CD)", size=7, color="#999999", align="center"))
layers.append(T(1510, 344, "2.240 AB (AB=CD)", size=7, color="#999999", align="center"))
layers.append(T(1510, 813, "1.270 AB? AB=CD", size=7, color="#999999", align="center"))

top = alt.layer(*layers).properties(width=PW, height=PH)

# ---------- oscillator panel ----------
osc_col = []
for n, c in osc_runs:
    osc_col += [c] * n
osc = pd.DataFrame({"i": range(len(osc_vals)), "v": osc_vals, "c": osc_col, "z": 0})

labels_js = json.dumps(tick_names)
ticks_js = json.dumps(tick_bars)
x_axis = alt.Axis(values=tick_bars, labelExpr=f"{labels_js}[indexof({ticks_js},datum.value)]", title=None, grid=False,
                  tickSize=6, tickColor="#000000", domainColor="#000000", domainWidth=1, labelColor="#000000",
                  labelFont=FONT, labelFontSize=11, labelPadding=6, labelOverlap=False, labelFlush=False, labelBound=False, orient="bottom")
y_axis = alt.Axis(orient="right", values=list(range(0, 11001, 1000)), title=None, grid=False, tickSize=4, tickColor="#000000",
                  domainColor="#000000", domainWidth=1, labelColor="#000000", labelFont=FONT, labelFontSize=9.5, labelPadding=0,
                  labelOverlap=False, labelFlush=False, labelBound=False,
                  labelExpr="datum.value>=10000 ? (datum.value/1000)+'M' : (datum.value==0 ? '0' : datum.value+'K')")
LX = alt.X("i:Q", scale=XS, axis=x_axis)
LY = alt.Y("v:Q", scale=OS, axis=y_axis)


def B(px, py, s, **k):
    return T(px, py - 1733, s, **k)


def BB(x0, y0, x1, y1, fill, **k):
    return box(x0, y0 - 1733, x1, y1 - 1733, fill, **k)


low_layers = [
    alt.Chart(grid_top.rename(columns={"x": "i"}).assign(v=0)).mark_rule(color="#666666", strokeDash=[1, 2], strokeWidth=1).encode(x=LX),
    alt.Chart(osc).mark_bar(size=2, orient="vertical").encode(x=LX, y=LY, y2="z:Q", color=alt.Color("c:N", scale=None)),
    BB(9, 1741, 1765, 1743.5, "#000000"),
    BB(9, 2001, 1725, 2003, "#000000"),
    alt.Chart(pd.DataFrame({"v": [1144]})).mark_point(
        shape=TAG, size=2209, filled=True, fill="#00ff00", stroke="#000000",
        strokeWidth=1, opacity=1).encode(x=alt.value(1733), y=LY),
    alt.Chart(pd.DataFrame({"v": [1144], "t": ["1144K"]})).mark_text(
        align="center", baseline="middle", font=FONT, fontSize=11, color="#000000").encode(x=alt.value(1735), y=LY, text="t:N"),
]

low_layers.append(B(9, 1754, "PriceActionSwingOscillator(ES 03-20 (480 Minute), Standard, 7, 20)", size=10.5))
low_layers.append(B(9, 1988, "© 2020 NinjaTrader, LLC", size=10.5))
low_layers.append(B(9, 2035, "ES 03-20", size=9))
low_layers.append(B(1652, 2033, "NINJA", size=14, color="#8a8a8a"))
low_layers.append(B(1699, 2033, "TRADER", size=14, color="#a83232"))
low_layers.append(B(1642, 2033, "⋒", size=14, color="#a83232", font="DejaVu Sans", align="center"))

bottom = alt.layer(*low_layers).properties(width=PW, height=OH)

chart = alt.vconcat(top, bottom, spacing=0, bounds="flush").properties(
    padding={"left": 0, "top": 0, "right": 0, "bottom": 0}, background="#ffffff"
).configure_view(stroke=None).configure_axis(labelFont=FONT)

chart.save("out.html", embed_options={"renderer": "svg", "actions": False})
